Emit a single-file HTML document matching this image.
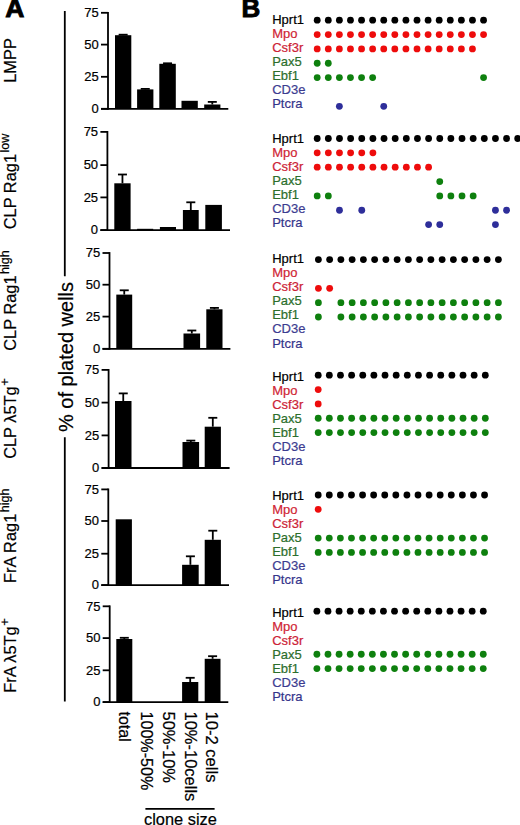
<!DOCTYPE html><html><head><meta charset="utf-8"><style>html,body{margin:0;padding:0;background:#fff;}svg{display:block;}text{font-family:"Liberation Sans", sans-serif;stroke:#000;stroke-width:0.2px;}</style></head><body>
<svg width="520" height="825" viewBox="0 0 520 825">
<rect width="520" height="825" fill="#fff"/>
<text x="5.30" y="17.0" font-size="26.5" font-weight="bold" style="stroke-width:0.9px">A</text>
<text x="241.60" y="17.4" font-size="26" font-weight="bold" style="stroke-width:0.9px">B</text>
<line x1="108.00" y1="11.90" x2="108.00" y2="109.70" stroke="#000" stroke-width="1.80"/>
<line x1="101.00" y1="108.80" x2="228.30" y2="108.80" stroke="#000" stroke-width="1.80"/>
<line x1="101.00" y1="12.80" x2="108.00" y2="12.80" stroke="#000" stroke-width="1.80"/>
<text x="98.70" y="17.00" font-size="13" text-anchor="end">75</text>
<line x1="101.00" y1="44.60" x2="108.00" y2="44.60" stroke="#000" stroke-width="1.80"/>
<text x="98.70" y="48.80" font-size="13" text-anchor="end">50</text>
<line x1="101.00" y1="76.80" x2="108.00" y2="76.80" stroke="#000" stroke-width="1.80"/>
<text x="98.70" y="81.00" font-size="13" text-anchor="end">25</text>
<line x1="101.00" y1="108.80" x2="108.00" y2="108.80" stroke="#000" stroke-width="1.80"/>
<text x="98.70" y="113.00" font-size="13" text-anchor="end">0</text>
<rect x="115.00" y="35.20" width="16.30" height="73.60" fill="#000"/>
<line x1="123.15" y1="35.20" x2="123.15" y2="34.70" stroke="#000" stroke-width="1.80"/>
<line x1="118.65" y1="34.70" x2="127.65" y2="34.70" stroke="#000" stroke-width="1.80"/>
<rect x="137.10" y="89.40" width="16.30" height="19.40" fill="#000"/>
<line x1="145.25" y1="89.40" x2="145.25" y2="88.90" stroke="#000" stroke-width="1.80"/>
<line x1="140.75" y1="88.90" x2="149.75" y2="88.90" stroke="#000" stroke-width="1.80"/>
<rect x="159.30" y="63.80" width="16.50" height="45.00" fill="#000"/>
<line x1="167.55" y1="63.80" x2="167.55" y2="63.30" stroke="#000" stroke-width="1.80"/>
<line x1="163.05" y1="63.30" x2="172.05" y2="63.30" stroke="#000" stroke-width="1.80"/>
<rect x="181.50" y="100.80" width="16.30" height="8.00" fill="#000"/>
<rect x="204.20" y="104.50" width="16.20" height="4.30" fill="#000"/>
<line x1="212.30" y1="104.50" x2="212.30" y2="101.90" stroke="#000" stroke-width="1.80"/>
<line x1="207.80" y1="101.90" x2="216.80" y2="101.90" stroke="#000" stroke-width="1.80"/>
<text x="15.70" y="60.50" font-size="16.4" text-anchor="middle" transform="rotate(-90 15.70 60.50)">LMPP</text>
<line x1="107.40" y1="131.00" x2="107.40" y2="231.00" stroke="#000" stroke-width="1.80"/>
<line x1="100.40" y1="230.10" x2="230.00" y2="230.10" stroke="#000" stroke-width="1.80"/>
<line x1="100.40" y1="131.90" x2="107.40" y2="131.90" stroke="#000" stroke-width="1.80"/>
<text x="98.10" y="136.10" font-size="13" text-anchor="end">75</text>
<line x1="100.40" y1="165.10" x2="107.40" y2="165.10" stroke="#000" stroke-width="1.80"/>
<text x="98.10" y="169.30" font-size="13" text-anchor="end">50</text>
<line x1="100.40" y1="197.40" x2="107.40" y2="197.40" stroke="#000" stroke-width="1.80"/>
<text x="98.10" y="201.60" font-size="13" text-anchor="end">25</text>
<line x1="100.40" y1="230.10" x2="107.40" y2="230.10" stroke="#000" stroke-width="1.80"/>
<text x="98.10" y="234.30" font-size="13" text-anchor="end">0</text>
<rect x="114.30" y="183.30" width="16.30" height="46.80" fill="#000"/>
<line x1="122.45" y1="183.30" x2="122.45" y2="174.50" stroke="#000" stroke-width="1.80"/>
<line x1="117.95" y1="174.50" x2="126.95" y2="174.50" stroke="#000" stroke-width="1.80"/>
<rect x="137.10" y="228.80" width="16.10" height="1.30" fill="#000"/>
<rect x="159.90" y="227.00" width="16.10" height="3.10" fill="#000"/>
<rect x="182.90" y="210.00" width="15.80" height="20.10" fill="#000"/>
<line x1="190.80" y1="210.00" x2="190.80" y2="202.30" stroke="#000" stroke-width="1.80"/>
<line x1="186.30" y1="202.30" x2="195.30" y2="202.30" stroke="#000" stroke-width="1.80"/>
<rect x="205.30" y="204.90" width="16.60" height="25.20" fill="#000"/>
<text x="15.70" y="181.50" font-size="16.4" text-anchor="middle" transform="rotate(-90 15.70 181.50)">CLP Rag1<tspan font-size="12.5" dx="1.5" dy="-7">low</tspan></text>
<line x1="109.50" y1="252.10" x2="109.50" y2="349.70" stroke="#000" stroke-width="1.80"/>
<line x1="102.50" y1="348.80" x2="230.40" y2="348.80" stroke="#000" stroke-width="1.80"/>
<line x1="102.50" y1="253.00" x2="109.50" y2="253.00" stroke="#000" stroke-width="1.80"/>
<text x="100.20" y="257.20" font-size="13" text-anchor="end">75</text>
<line x1="102.50" y1="284.70" x2="109.50" y2="284.70" stroke="#000" stroke-width="1.80"/>
<text x="100.20" y="288.90" font-size="13" text-anchor="end">50</text>
<line x1="102.50" y1="316.60" x2="109.50" y2="316.60" stroke="#000" stroke-width="1.80"/>
<text x="100.20" y="320.80" font-size="13" text-anchor="end">25</text>
<line x1="102.50" y1="348.80" x2="109.50" y2="348.80" stroke="#000" stroke-width="1.80"/>
<text x="100.20" y="353.00" font-size="13" text-anchor="end">0</text>
<rect x="116.30" y="294.60" width="15.90" height="54.20" fill="#000"/>
<line x1="124.25" y1="294.60" x2="124.25" y2="290.30" stroke="#000" stroke-width="1.80"/>
<line x1="119.75" y1="290.30" x2="128.75" y2="290.30" stroke="#000" stroke-width="1.80"/>
<rect x="183.50" y="333.50" width="16.60" height="15.30" fill="#000"/>
<line x1="191.80" y1="333.50" x2="191.80" y2="330.50" stroke="#000" stroke-width="1.80"/>
<line x1="187.30" y1="330.50" x2="196.30" y2="330.50" stroke="#000" stroke-width="1.80"/>
<rect x="206.30" y="309.30" width="16.20" height="39.50" fill="#000"/>
<line x1="214.40" y1="309.30" x2="214.40" y2="307.90" stroke="#000" stroke-width="1.80"/>
<line x1="209.90" y1="307.90" x2="218.90" y2="307.90" stroke="#000" stroke-width="1.80"/>
<text x="15.70" y="300.50" font-size="16.4" text-anchor="middle" transform="rotate(-90 15.70 300.50)">CLP Rag1<tspan font-size="12.5" dx="1.5" dy="-7">high</tspan></text>
<line x1="108.60" y1="369.00" x2="108.60" y2="468.90" stroke="#000" stroke-width="1.80"/>
<line x1="101.60" y1="468.00" x2="229.60" y2="468.00" stroke="#000" stroke-width="1.80"/>
<line x1="101.60" y1="369.90" x2="108.60" y2="369.90" stroke="#000" stroke-width="1.80"/>
<text x="99.30" y="374.10" font-size="13" text-anchor="end">75</text>
<line x1="101.60" y1="402.60" x2="108.60" y2="402.60" stroke="#000" stroke-width="1.80"/>
<text x="99.30" y="406.80" font-size="13" text-anchor="end">50</text>
<line x1="101.60" y1="435.40" x2="108.60" y2="435.40" stroke="#000" stroke-width="1.80"/>
<text x="99.30" y="439.60" font-size="13" text-anchor="end">25</text>
<line x1="101.60" y1="468.00" x2="108.60" y2="468.00" stroke="#000" stroke-width="1.80"/>
<text x="99.30" y="472.20" font-size="13" text-anchor="end">0</text>
<rect x="115.00" y="401.00" width="16.50" height="67.00" fill="#000"/>
<line x1="123.25" y1="401.00" x2="123.25" y2="393.40" stroke="#000" stroke-width="1.80"/>
<line x1="118.75" y1="393.40" x2="127.75" y2="393.40" stroke="#000" stroke-width="1.80"/>
<rect x="182.50" y="442.00" width="16.60" height="26.00" fill="#000"/>
<line x1="190.80" y1="442.00" x2="190.80" y2="440.60" stroke="#000" stroke-width="1.80"/>
<line x1="186.30" y1="440.60" x2="195.30" y2="440.60" stroke="#000" stroke-width="1.80"/>
<rect x="204.70" y="426.70" width="16.20" height="41.30" fill="#000"/>
<line x1="212.80" y1="426.70" x2="212.80" y2="417.80" stroke="#000" stroke-width="1.80"/>
<line x1="208.30" y1="417.80" x2="217.30" y2="417.80" stroke="#000" stroke-width="1.80"/>
<text x="15.70" y="418.50" font-size="16.4" text-anchor="middle" transform="rotate(-90 15.70 418.50)">CLP λ5Tg<tspan font-size="13.0" dx="0.5" dy="-7">+</tspan></text>
<line x1="108.30" y1="488.50" x2="108.30" y2="586.00" stroke="#000" stroke-width="1.80"/>
<line x1="101.30" y1="585.10" x2="229.00" y2="585.10" stroke="#000" stroke-width="1.80"/>
<line x1="101.30" y1="489.40" x2="108.30" y2="489.40" stroke="#000" stroke-width="1.80"/>
<text x="99.00" y="493.60" font-size="13" text-anchor="end">75</text>
<line x1="101.30" y1="521.00" x2="108.30" y2="521.00" stroke="#000" stroke-width="1.80"/>
<text x="99.00" y="525.20" font-size="13" text-anchor="end">50</text>
<line x1="101.30" y1="553.70" x2="108.30" y2="553.70" stroke="#000" stroke-width="1.80"/>
<text x="99.00" y="557.90" font-size="13" text-anchor="end">25</text>
<line x1="101.30" y1="585.10" x2="108.30" y2="585.10" stroke="#000" stroke-width="1.80"/>
<text x="99.00" y="589.30" font-size="13" text-anchor="end">0</text>
<rect x="115.70" y="519.30" width="16.20" height="65.80" fill="#000"/>
<rect x="182.10" y="564.80" width="16.60" height="20.30" fill="#000"/>
<line x1="190.40" y1="564.80" x2="190.40" y2="556.30" stroke="#000" stroke-width="1.80"/>
<line x1="185.90" y1="556.30" x2="194.90" y2="556.30" stroke="#000" stroke-width="1.80"/>
<rect x="204.70" y="539.80" width="16.20" height="45.30" fill="#000"/>
<line x1="212.80" y1="539.80" x2="212.80" y2="530.70" stroke="#000" stroke-width="1.80"/>
<line x1="208.30" y1="530.70" x2="217.30" y2="530.70" stroke="#000" stroke-width="1.80"/>
<text x="15.70" y="535.80" font-size="16.4" text-anchor="middle" transform="rotate(-90 15.70 535.80)">FrA Rag1<tspan font-size="12.5" dx="1.5" dy="-7">high</tspan></text>
<line x1="109.70" y1="605.40" x2="109.70" y2="703.00" stroke="#000" stroke-width="1.80"/>
<line x1="102.70" y1="702.10" x2="228.30" y2="702.10" stroke="#000" stroke-width="1.80"/>
<line x1="102.70" y1="606.30" x2="109.70" y2="606.30" stroke="#000" stroke-width="1.80"/>
<text x="100.40" y="610.50" font-size="13" text-anchor="end">75</text>
<line x1="102.70" y1="638.10" x2="109.70" y2="638.10" stroke="#000" stroke-width="1.80"/>
<text x="100.40" y="642.30" font-size="13" text-anchor="end">50</text>
<line x1="102.70" y1="670.30" x2="109.70" y2="670.30" stroke="#000" stroke-width="1.80"/>
<text x="100.40" y="674.50" font-size="13" text-anchor="end">25</text>
<line x1="102.70" y1="702.10" x2="109.70" y2="702.10" stroke="#000" stroke-width="1.80"/>
<text x="100.40" y="706.30" font-size="13" text-anchor="end">0</text>
<rect x="116.30" y="639.00" width="16.00" height="63.10" fill="#000"/>
<line x1="124.30" y1="639.00" x2="124.30" y2="637.80" stroke="#000" stroke-width="1.80"/>
<line x1="119.80" y1="637.80" x2="128.80" y2="637.80" stroke="#000" stroke-width="1.80"/>
<rect x="182.10" y="682.00" width="16.20" height="20.10" fill="#000"/>
<line x1="190.20" y1="682.00" x2="190.20" y2="677.80" stroke="#000" stroke-width="1.80"/>
<line x1="185.70" y1="677.80" x2="194.70" y2="677.80" stroke="#000" stroke-width="1.80"/>
<rect x="204.70" y="658.80" width="15.80" height="43.30" fill="#000"/>
<line x1="212.60" y1="658.80" x2="212.60" y2="656.20" stroke="#000" stroke-width="1.80"/>
<line x1="208.10" y1="656.20" x2="217.10" y2="656.20" stroke="#000" stroke-width="1.80"/>
<text x="15.70" y="655.50" font-size="16.4" text-anchor="middle" transform="rotate(-90 15.70 655.50)">FrA λ5Tg<tspan font-size="13.0" dx="0.5" dy="-7">+</tspan></text>
<line x1="64.8" y1="11" x2="64.8" y2="276.2" stroke="#000" stroke-width="1.8"/>
<line x1="64.8" y1="437.3" x2="64.8" y2="701.5" stroke="#000" stroke-width="1.8"/>
<text x="73.3" y="357" font-size="20" text-anchor="middle" transform="rotate(-90 73.3 357)">% of plated wells</text>
<text x="119.00" y="711.50" font-size="16.0" transform="rotate(90 119.00 711.50)">total</text>
<text x="140.80" y="711.50" font-size="16.1" transform="rotate(90 140.80 711.50)">100%-50%</text>
<text x="162.60" y="711.50" font-size="16.5" transform="rotate(90 162.60 711.50)">50%-10%</text>
<text x="184.60" y="711.50" font-size="16.5" transform="rotate(90 184.60 711.50)">10%-10cells</text>
<text x="206.20" y="711.50" font-size="16.6" transform="rotate(90 206.20 711.50)">10-2 cells</text>
<line x1="145.4" y1="808.8" x2="214.6" y2="808.8" stroke="#000" stroke-width="1.8"/>
<text x="144" y="824.6" font-size="16.4">clone size</text>
<text x="272.2" y="23.70" font-size="13" style="fill:#000;stroke:#000">Hprt1</text>
<circle cx="317.20" cy="20.20" r="3.40" fill="#000"/>
<circle cx="328.29" cy="20.20" r="3.40" fill="#000"/>
<circle cx="339.38" cy="20.20" r="3.40" fill="#000"/>
<circle cx="350.47" cy="20.20" r="3.40" fill="#000"/>
<circle cx="361.56" cy="20.20" r="3.40" fill="#000"/>
<circle cx="372.65" cy="20.20" r="3.40" fill="#000"/>
<circle cx="383.74" cy="20.20" r="3.40" fill="#000"/>
<circle cx="394.83" cy="20.20" r="3.40" fill="#000"/>
<circle cx="405.92" cy="20.20" r="3.40" fill="#000"/>
<circle cx="417.01" cy="20.20" r="3.40" fill="#000"/>
<circle cx="428.10" cy="20.20" r="3.40" fill="#000"/>
<circle cx="439.19" cy="20.20" r="3.40" fill="#000"/>
<circle cx="450.28" cy="20.20" r="3.40" fill="#000"/>
<circle cx="461.37" cy="20.20" r="3.40" fill="#000"/>
<circle cx="472.46" cy="20.20" r="3.40" fill="#000"/>
<circle cx="483.55" cy="20.20" r="3.40" fill="#000"/>
<text x="272.2" y="37.75" font-size="13" style="fill:#d02434;stroke:#d02434">Mpo</text>
<circle cx="317.20" cy="34.55" r="3.40" fill="#ee0c0c"/>
<circle cx="328.29" cy="34.55" r="3.40" fill="#ee0c0c"/>
<circle cx="339.38" cy="34.55" r="3.40" fill="#ee0c0c"/>
<circle cx="350.47" cy="34.55" r="3.40" fill="#ee0c0c"/>
<circle cx="361.56" cy="34.55" r="3.40" fill="#ee0c0c"/>
<circle cx="372.65" cy="34.55" r="3.40" fill="#ee0c0c"/>
<circle cx="383.74" cy="34.55" r="3.40" fill="#ee0c0c"/>
<circle cx="394.83" cy="34.55" r="3.40" fill="#ee0c0c"/>
<circle cx="405.92" cy="34.55" r="3.40" fill="#ee0c0c"/>
<circle cx="417.01" cy="34.55" r="3.40" fill="#ee0c0c"/>
<circle cx="428.10" cy="34.55" r="3.40" fill="#ee0c0c"/>
<circle cx="439.19" cy="34.55" r="3.40" fill="#ee0c0c"/>
<circle cx="450.28" cy="34.55" r="3.40" fill="#ee0c0c"/>
<circle cx="461.37" cy="34.55" r="3.40" fill="#ee0c0c"/>
<circle cx="472.46" cy="34.55" r="3.40" fill="#ee0c0c"/>
<circle cx="483.55" cy="34.55" r="3.40" fill="#ee0c0c"/>
<text x="272.2" y="51.80" font-size="13" style="fill:#cc2236;stroke:#cc2236">Csf3r</text>
<circle cx="317.20" cy="48.90" r="3.40" fill="#ee0c0c"/>
<circle cx="328.29" cy="48.90" r="3.40" fill="#ee0c0c"/>
<circle cx="339.38" cy="48.90" r="3.40" fill="#ee0c0c"/>
<circle cx="350.47" cy="48.90" r="3.40" fill="#ee0c0c"/>
<circle cx="361.56" cy="48.90" r="3.40" fill="#ee0c0c"/>
<circle cx="372.65" cy="48.90" r="3.40" fill="#ee0c0c"/>
<circle cx="383.74" cy="48.90" r="3.40" fill="#ee0c0c"/>
<circle cx="394.83" cy="48.90" r="3.40" fill="#ee0c0c"/>
<circle cx="405.92" cy="48.90" r="3.40" fill="#ee0c0c"/>
<circle cx="417.01" cy="48.90" r="3.40" fill="#ee0c0c"/>
<circle cx="428.10" cy="48.90" r="3.40" fill="#ee0c0c"/>
<circle cx="439.19" cy="48.90" r="3.40" fill="#ee0c0c"/>
<circle cx="450.28" cy="48.90" r="3.40" fill="#ee0c0c"/>
<circle cx="461.37" cy="48.90" r="3.40" fill="#ee0c0c"/>
<circle cx="472.46" cy="48.90" r="3.40" fill="#ee0c0c"/>
<text x="272.2" y="65.85" font-size="13" style="fill:#2c6e2c;stroke:#2c6e2c">Pax5</text>
<circle cx="317.20" cy="63.25" r="3.40" fill="#0e800e"/>
<circle cx="328.29" cy="63.25" r="3.40" fill="#0e800e"/>
<text x="272.2" y="79.90" font-size="13" style="fill:#2c6e2c;stroke:#2c6e2c">Ebf1</text>
<circle cx="317.20" cy="77.60" r="3.40" fill="#0e800e"/>
<circle cx="328.29" cy="77.60" r="3.40" fill="#0e800e"/>
<circle cx="339.38" cy="77.60" r="3.40" fill="#0e800e"/>
<circle cx="350.47" cy="77.60" r="3.40" fill="#0e800e"/>
<circle cx="361.56" cy="77.60" r="3.40" fill="#0e800e"/>
<circle cx="372.65" cy="77.60" r="3.40" fill="#0e800e"/>
<circle cx="483.55" cy="77.60" r="3.40" fill="#0e800e"/>
<text x="272.2" y="93.95" font-size="13" style="fill:#3c3c90;stroke:#3c3c90">CD3e</text>
<text x="272.2" y="108.00" font-size="13" style="fill:#34348a;stroke:#34348a">Ptcra</text>
<circle cx="339.38" cy="106.30" r="3.40" fill="#2e2e9a"/>
<circle cx="383.74" cy="106.30" r="3.40" fill="#2e2e9a"/>
<text x="272.2" y="142.60" font-size="13" style="fill:#000;stroke:#000">Hprt1</text>
<circle cx="317.20" cy="138.50" r="3.40" fill="#000"/>
<circle cx="328.34" cy="138.50" r="3.40" fill="#000"/>
<circle cx="339.48" cy="138.50" r="3.40" fill="#000"/>
<circle cx="350.62" cy="138.50" r="3.40" fill="#000"/>
<circle cx="361.76" cy="138.50" r="3.40" fill="#000"/>
<circle cx="372.90" cy="138.50" r="3.40" fill="#000"/>
<circle cx="384.04" cy="138.50" r="3.40" fill="#000"/>
<circle cx="395.18" cy="138.50" r="3.40" fill="#000"/>
<circle cx="406.32" cy="138.50" r="3.40" fill="#000"/>
<circle cx="417.46" cy="138.50" r="3.40" fill="#000"/>
<circle cx="428.60" cy="138.50" r="3.40" fill="#000"/>
<circle cx="439.74" cy="138.50" r="3.40" fill="#000"/>
<circle cx="450.88" cy="138.50" r="3.40" fill="#000"/>
<circle cx="462.02" cy="138.50" r="3.40" fill="#000"/>
<circle cx="473.16" cy="138.50" r="3.40" fill="#000"/>
<circle cx="484.30" cy="138.50" r="3.40" fill="#000"/>
<circle cx="495.44" cy="138.50" r="3.40" fill="#000"/>
<circle cx="506.58" cy="138.50" r="3.40" fill="#000"/>
<circle cx="517.72" cy="138.50" r="3.40" fill="#000"/>
<text x="272.2" y="156.65" font-size="13" style="fill:#d02434;stroke:#d02434">Mpo</text>
<circle cx="317.20" cy="152.85" r="3.40" fill="#ee0c0c"/>
<circle cx="328.34" cy="152.85" r="3.40" fill="#ee0c0c"/>
<circle cx="339.48" cy="152.85" r="3.40" fill="#ee0c0c"/>
<circle cx="350.62" cy="152.85" r="3.40" fill="#ee0c0c"/>
<circle cx="361.76" cy="152.85" r="3.40" fill="#ee0c0c"/>
<circle cx="372.90" cy="152.85" r="3.40" fill="#ee0c0c"/>
<text x="272.2" y="170.70" font-size="13" style="fill:#cc2236;stroke:#cc2236">Csf3r</text>
<circle cx="317.20" cy="167.20" r="3.40" fill="#ee0c0c"/>
<circle cx="328.34" cy="167.20" r="3.40" fill="#ee0c0c"/>
<circle cx="339.48" cy="167.20" r="3.40" fill="#ee0c0c"/>
<circle cx="350.62" cy="167.20" r="3.40" fill="#ee0c0c"/>
<circle cx="361.76" cy="167.20" r="3.40" fill="#ee0c0c"/>
<circle cx="372.90" cy="167.20" r="3.40" fill="#ee0c0c"/>
<circle cx="384.04" cy="167.20" r="3.40" fill="#ee0c0c"/>
<circle cx="395.18" cy="167.20" r="3.40" fill="#ee0c0c"/>
<circle cx="406.32" cy="167.20" r="3.40" fill="#ee0c0c"/>
<circle cx="417.46" cy="167.20" r="3.40" fill="#ee0c0c"/>
<circle cx="428.60" cy="167.20" r="3.40" fill="#ee0c0c"/>
<text x="272.2" y="184.75" font-size="13" style="fill:#2c6e2c;stroke:#2c6e2c">Pax5</text>
<circle cx="439.74" cy="181.55" r="3.40" fill="#0e800e"/>
<text x="272.2" y="198.80" font-size="13" style="fill:#2c6e2c;stroke:#2c6e2c">Ebf1</text>
<circle cx="317.20" cy="195.90" r="3.40" fill="#0e800e"/>
<circle cx="328.34" cy="195.90" r="3.40" fill="#0e800e"/>
<circle cx="439.74" cy="195.90" r="3.40" fill="#0e800e"/>
<circle cx="450.88" cy="195.90" r="3.40" fill="#0e800e"/>
<circle cx="462.02" cy="195.90" r="3.40" fill="#0e800e"/>
<circle cx="473.16" cy="195.90" r="3.40" fill="#0e800e"/>
<text x="272.2" y="212.85" font-size="13" style="fill:#3c3c90;stroke:#3c3c90">CD3e</text>
<circle cx="339.48" cy="210.25" r="3.40" fill="#2e2e9a"/>
<circle cx="361.76" cy="210.25" r="3.40" fill="#2e2e9a"/>
<circle cx="495.44" cy="210.25" r="3.40" fill="#2e2e9a"/>
<circle cx="506.58" cy="210.25" r="3.40" fill="#2e2e9a"/>
<text x="272.2" y="226.90" font-size="13" style="fill:#34348a;stroke:#34348a">Ptcra</text>
<circle cx="428.60" cy="224.60" r="3.40" fill="#2e2e9a"/>
<circle cx="439.74" cy="224.60" r="3.40" fill="#2e2e9a"/>
<circle cx="495.44" cy="224.60" r="3.40" fill="#2e2e9a"/>
<text x="272.2" y="263.20" font-size="13" style="fill:#000;stroke:#000">Hprt1</text>
<circle cx="318.40" cy="259.60" r="3.40" fill="#000"/>
<circle cx="329.65" cy="259.60" r="3.40" fill="#000"/>
<circle cx="340.90" cy="259.60" r="3.40" fill="#000"/>
<circle cx="352.15" cy="259.60" r="3.40" fill="#000"/>
<circle cx="363.40" cy="259.60" r="3.40" fill="#000"/>
<circle cx="374.65" cy="259.60" r="3.40" fill="#000"/>
<circle cx="385.90" cy="259.60" r="3.40" fill="#000"/>
<circle cx="397.15" cy="259.60" r="3.40" fill="#000"/>
<circle cx="408.40" cy="259.60" r="3.40" fill="#000"/>
<circle cx="419.65" cy="259.60" r="3.40" fill="#000"/>
<circle cx="430.90" cy="259.60" r="3.40" fill="#000"/>
<circle cx="442.15" cy="259.60" r="3.40" fill="#000"/>
<circle cx="453.40" cy="259.60" r="3.40" fill="#000"/>
<circle cx="464.65" cy="259.60" r="3.40" fill="#000"/>
<circle cx="475.90" cy="259.60" r="3.40" fill="#000"/>
<circle cx="487.15" cy="259.60" r="3.40" fill="#000"/>
<circle cx="498.40" cy="259.60" r="3.40" fill="#000"/>
<text x="272.2" y="277.25" font-size="13" style="fill:#d02434;stroke:#d02434">Mpo</text>
<text x="272.2" y="291.30" font-size="13" style="fill:#cc2236;stroke:#cc2236">Csf3r</text>
<circle cx="318.40" cy="288.30" r="3.40" fill="#ee0c0c"/>
<circle cx="329.65" cy="288.30" r="3.40" fill="#ee0c0c"/>
<text x="272.2" y="305.35" font-size="13" style="fill:#2c6e2c;stroke:#2c6e2c">Pax5</text>
<circle cx="318.40" cy="302.65" r="3.40" fill="#0e800e"/>
<circle cx="340.90" cy="302.65" r="3.40" fill="#0e800e"/>
<circle cx="352.15" cy="302.65" r="3.40" fill="#0e800e"/>
<circle cx="363.40" cy="302.65" r="3.40" fill="#0e800e"/>
<circle cx="374.65" cy="302.65" r="3.40" fill="#0e800e"/>
<circle cx="385.90" cy="302.65" r="3.40" fill="#0e800e"/>
<circle cx="397.15" cy="302.65" r="3.40" fill="#0e800e"/>
<circle cx="408.40" cy="302.65" r="3.40" fill="#0e800e"/>
<circle cx="419.65" cy="302.65" r="3.40" fill="#0e800e"/>
<circle cx="430.90" cy="302.65" r="3.40" fill="#0e800e"/>
<circle cx="442.15" cy="302.65" r="3.40" fill="#0e800e"/>
<circle cx="453.40" cy="302.65" r="3.40" fill="#0e800e"/>
<circle cx="464.65" cy="302.65" r="3.40" fill="#0e800e"/>
<circle cx="475.90" cy="302.65" r="3.40" fill="#0e800e"/>
<circle cx="487.15" cy="302.65" r="3.40" fill="#0e800e"/>
<circle cx="498.40" cy="302.65" r="3.40" fill="#0e800e"/>
<text x="272.2" y="319.40" font-size="13" style="fill:#2c6e2c;stroke:#2c6e2c">Ebf1</text>
<circle cx="318.40" cy="317.00" r="3.40" fill="#0e800e"/>
<circle cx="340.90" cy="317.00" r="3.40" fill="#0e800e"/>
<circle cx="352.15" cy="317.00" r="3.40" fill="#0e800e"/>
<circle cx="363.40" cy="317.00" r="3.40" fill="#0e800e"/>
<circle cx="374.65" cy="317.00" r="3.40" fill="#0e800e"/>
<circle cx="385.90" cy="317.00" r="3.40" fill="#0e800e"/>
<circle cx="397.15" cy="317.00" r="3.40" fill="#0e800e"/>
<circle cx="408.40" cy="317.00" r="3.40" fill="#0e800e"/>
<circle cx="419.65" cy="317.00" r="3.40" fill="#0e800e"/>
<circle cx="430.90" cy="317.00" r="3.40" fill="#0e800e"/>
<circle cx="442.15" cy="317.00" r="3.40" fill="#0e800e"/>
<circle cx="453.40" cy="317.00" r="3.40" fill="#0e800e"/>
<circle cx="464.65" cy="317.00" r="3.40" fill="#0e800e"/>
<circle cx="475.90" cy="317.00" r="3.40" fill="#0e800e"/>
<circle cx="487.15" cy="317.00" r="3.40" fill="#0e800e"/>
<circle cx="498.40" cy="317.00" r="3.40" fill="#0e800e"/>
<text x="272.2" y="333.45" font-size="13" style="fill:#3c3c90;stroke:#3c3c90">CD3e</text>
<text x="272.2" y="347.50" font-size="13" style="fill:#34348a;stroke:#34348a">Ptcra</text>
<text x="272.2" y="380.50" font-size="13" style="fill:#000;stroke:#000">Hprt1</text>
<circle cx="318.20" cy="375.20" r="3.40" fill="#000"/>
<circle cx="329.34" cy="375.20" r="3.40" fill="#000"/>
<circle cx="340.48" cy="375.20" r="3.40" fill="#000"/>
<circle cx="351.62" cy="375.20" r="3.40" fill="#000"/>
<circle cx="362.76" cy="375.20" r="3.40" fill="#000"/>
<circle cx="373.90" cy="375.20" r="3.40" fill="#000"/>
<circle cx="385.04" cy="375.20" r="3.40" fill="#000"/>
<circle cx="396.18" cy="375.20" r="3.40" fill="#000"/>
<circle cx="407.32" cy="375.20" r="3.40" fill="#000"/>
<circle cx="418.46" cy="375.20" r="3.40" fill="#000"/>
<circle cx="429.60" cy="375.20" r="3.40" fill="#000"/>
<circle cx="440.74" cy="375.20" r="3.40" fill="#000"/>
<circle cx="451.88" cy="375.20" r="3.40" fill="#000"/>
<circle cx="463.02" cy="375.20" r="3.40" fill="#000"/>
<circle cx="474.16" cy="375.20" r="3.40" fill="#000"/>
<circle cx="485.30" cy="375.20" r="3.40" fill="#000"/>
<text x="272.2" y="394.55" font-size="13" style="fill:#d02434;stroke:#d02434">Mpo</text>
<circle cx="318.20" cy="389.55" r="3.40" fill="#ee0c0c"/>
<text x="272.2" y="408.60" font-size="13" style="fill:#cc2236;stroke:#cc2236">Csf3r</text>
<circle cx="318.20" cy="403.90" r="3.40" fill="#ee0c0c"/>
<text x="272.2" y="422.65" font-size="13" style="fill:#2c6e2c;stroke:#2c6e2c">Pax5</text>
<circle cx="318.20" cy="418.25" r="3.40" fill="#0e800e"/>
<circle cx="329.34" cy="418.25" r="3.40" fill="#0e800e"/>
<circle cx="340.48" cy="418.25" r="3.40" fill="#0e800e"/>
<circle cx="351.62" cy="418.25" r="3.40" fill="#0e800e"/>
<circle cx="362.76" cy="418.25" r="3.40" fill="#0e800e"/>
<circle cx="373.90" cy="418.25" r="3.40" fill="#0e800e"/>
<circle cx="385.04" cy="418.25" r="3.40" fill="#0e800e"/>
<circle cx="396.18" cy="418.25" r="3.40" fill="#0e800e"/>
<circle cx="407.32" cy="418.25" r="3.40" fill="#0e800e"/>
<circle cx="418.46" cy="418.25" r="3.40" fill="#0e800e"/>
<circle cx="429.60" cy="418.25" r="3.40" fill="#0e800e"/>
<circle cx="440.74" cy="418.25" r="3.40" fill="#0e800e"/>
<circle cx="451.88" cy="418.25" r="3.40" fill="#0e800e"/>
<circle cx="463.02" cy="418.25" r="3.40" fill="#0e800e"/>
<circle cx="474.16" cy="418.25" r="3.40" fill="#0e800e"/>
<circle cx="485.30" cy="418.25" r="3.40" fill="#0e800e"/>
<text x="272.2" y="436.70" font-size="13" style="fill:#2c6e2c;stroke:#2c6e2c">Ebf1</text>
<circle cx="318.20" cy="432.60" r="3.40" fill="#0e800e"/>
<circle cx="329.34" cy="432.60" r="3.40" fill="#0e800e"/>
<circle cx="340.48" cy="432.60" r="3.40" fill="#0e800e"/>
<circle cx="351.62" cy="432.60" r="3.40" fill="#0e800e"/>
<circle cx="362.76" cy="432.60" r="3.40" fill="#0e800e"/>
<circle cx="373.90" cy="432.60" r="3.40" fill="#0e800e"/>
<circle cx="385.04" cy="432.60" r="3.40" fill="#0e800e"/>
<circle cx="396.18" cy="432.60" r="3.40" fill="#0e800e"/>
<circle cx="407.32" cy="432.60" r="3.40" fill="#0e800e"/>
<circle cx="418.46" cy="432.60" r="3.40" fill="#0e800e"/>
<circle cx="429.60" cy="432.60" r="3.40" fill="#0e800e"/>
<circle cx="440.74" cy="432.60" r="3.40" fill="#0e800e"/>
<circle cx="451.88" cy="432.60" r="3.40" fill="#0e800e"/>
<circle cx="463.02" cy="432.60" r="3.40" fill="#0e800e"/>
<circle cx="474.16" cy="432.60" r="3.40" fill="#0e800e"/>
<circle cx="485.30" cy="432.60" r="3.40" fill="#0e800e"/>
<text x="272.2" y="450.75" font-size="13" style="fill:#3c3c90;stroke:#3c3c90">CD3e</text>
<text x="272.2" y="464.80" font-size="13" style="fill:#34348a;stroke:#34348a">Ptcra</text>
<text x="272.2" y="499.50" font-size="13" style="fill:#000;stroke:#000">Hprt1</text>
<circle cx="318.20" cy="495.00" r="3.40" fill="#000"/>
<circle cx="329.29" cy="495.00" r="3.40" fill="#000"/>
<circle cx="340.38" cy="495.00" r="3.40" fill="#000"/>
<circle cx="351.47" cy="495.00" r="3.40" fill="#000"/>
<circle cx="362.56" cy="495.00" r="3.40" fill="#000"/>
<circle cx="373.65" cy="495.00" r="3.40" fill="#000"/>
<circle cx="384.74" cy="495.00" r="3.40" fill="#000"/>
<circle cx="395.83" cy="495.00" r="3.40" fill="#000"/>
<circle cx="406.92" cy="495.00" r="3.40" fill="#000"/>
<circle cx="418.01" cy="495.00" r="3.40" fill="#000"/>
<circle cx="429.10" cy="495.00" r="3.40" fill="#000"/>
<circle cx="440.19" cy="495.00" r="3.40" fill="#000"/>
<circle cx="451.28" cy="495.00" r="3.40" fill="#000"/>
<circle cx="462.37" cy="495.00" r="3.40" fill="#000"/>
<circle cx="473.46" cy="495.00" r="3.40" fill="#000"/>
<circle cx="484.55" cy="495.00" r="3.40" fill="#000"/>
<text x="272.2" y="513.55" font-size="13" style="fill:#d02434;stroke:#d02434">Mpo</text>
<circle cx="318.20" cy="509.35" r="3.40" fill="#ee0c0c"/>
<text x="272.2" y="527.60" font-size="13" style="fill:#cc2236;stroke:#cc2236">Csf3r</text>
<text x="272.2" y="541.65" font-size="13" style="fill:#2c6e2c;stroke:#2c6e2c">Pax5</text>
<circle cx="318.20" cy="538.05" r="3.40" fill="#0e800e"/>
<circle cx="329.29" cy="538.05" r="3.40" fill="#0e800e"/>
<circle cx="340.38" cy="538.05" r="3.40" fill="#0e800e"/>
<circle cx="351.47" cy="538.05" r="3.40" fill="#0e800e"/>
<circle cx="362.56" cy="538.05" r="3.40" fill="#0e800e"/>
<circle cx="373.65" cy="538.05" r="3.40" fill="#0e800e"/>
<circle cx="384.74" cy="538.05" r="3.40" fill="#0e800e"/>
<circle cx="395.83" cy="538.05" r="3.40" fill="#0e800e"/>
<circle cx="406.92" cy="538.05" r="3.40" fill="#0e800e"/>
<circle cx="418.01" cy="538.05" r="3.40" fill="#0e800e"/>
<circle cx="429.10" cy="538.05" r="3.40" fill="#0e800e"/>
<circle cx="440.19" cy="538.05" r="3.40" fill="#0e800e"/>
<circle cx="451.28" cy="538.05" r="3.40" fill="#0e800e"/>
<circle cx="462.37" cy="538.05" r="3.40" fill="#0e800e"/>
<circle cx="473.46" cy="538.05" r="3.40" fill="#0e800e"/>
<circle cx="484.55" cy="538.05" r="3.40" fill="#0e800e"/>
<text x="272.2" y="555.70" font-size="13" style="fill:#2c6e2c;stroke:#2c6e2c">Ebf1</text>
<circle cx="318.20" cy="552.40" r="3.40" fill="#0e800e"/>
<circle cx="329.29" cy="552.40" r="3.40" fill="#0e800e"/>
<circle cx="340.38" cy="552.40" r="3.40" fill="#0e800e"/>
<circle cx="351.47" cy="552.40" r="3.40" fill="#0e800e"/>
<circle cx="362.56" cy="552.40" r="3.40" fill="#0e800e"/>
<circle cx="373.65" cy="552.40" r="3.40" fill="#0e800e"/>
<circle cx="384.74" cy="552.40" r="3.40" fill="#0e800e"/>
<circle cx="395.83" cy="552.40" r="3.40" fill="#0e800e"/>
<circle cx="406.92" cy="552.40" r="3.40" fill="#0e800e"/>
<circle cx="418.01" cy="552.40" r="3.40" fill="#0e800e"/>
<circle cx="429.10" cy="552.40" r="3.40" fill="#0e800e"/>
<circle cx="440.19" cy="552.40" r="3.40" fill="#0e800e"/>
<circle cx="451.28" cy="552.40" r="3.40" fill="#0e800e"/>
<circle cx="462.37" cy="552.40" r="3.40" fill="#0e800e"/>
<circle cx="473.46" cy="552.40" r="3.40" fill="#0e800e"/>
<circle cx="484.55" cy="552.40" r="3.40" fill="#0e800e"/>
<text x="272.2" y="569.75" font-size="13" style="fill:#3c3c90;stroke:#3c3c90">CD3e</text>
<text x="272.2" y="583.80" font-size="13" style="fill:#34348a;stroke:#34348a">Ptcra</text>
<text x="272.2" y="616.80" font-size="13" style="fill:#000;stroke:#000">Hprt1</text>
<circle cx="316.90" cy="611.20" r="3.40" fill="#000"/>
<circle cx="327.99" cy="611.20" r="3.40" fill="#000"/>
<circle cx="339.08" cy="611.20" r="3.40" fill="#000"/>
<circle cx="350.17" cy="611.20" r="3.40" fill="#000"/>
<circle cx="361.26" cy="611.20" r="3.40" fill="#000"/>
<circle cx="372.35" cy="611.20" r="3.40" fill="#000"/>
<circle cx="383.44" cy="611.20" r="3.40" fill="#000"/>
<circle cx="394.53" cy="611.20" r="3.40" fill="#000"/>
<circle cx="405.62" cy="611.20" r="3.40" fill="#000"/>
<circle cx="416.71" cy="611.20" r="3.40" fill="#000"/>
<circle cx="427.80" cy="611.20" r="3.40" fill="#000"/>
<circle cx="438.89" cy="611.20" r="3.40" fill="#000"/>
<circle cx="449.98" cy="611.20" r="3.40" fill="#000"/>
<circle cx="461.07" cy="611.20" r="3.40" fill="#000"/>
<circle cx="472.16" cy="611.20" r="3.40" fill="#000"/>
<circle cx="483.25" cy="611.20" r="3.40" fill="#000"/>
<text x="272.2" y="630.85" font-size="13" style="fill:#d02434;stroke:#d02434">Mpo</text>
<text x="272.2" y="644.90" font-size="13" style="fill:#cc2236;stroke:#cc2236">Csf3r</text>
<text x="272.2" y="658.95" font-size="13" style="fill:#2c6e2c;stroke:#2c6e2c">Pax5</text>
<circle cx="316.90" cy="654.25" r="3.40" fill="#0e800e"/>
<circle cx="327.99" cy="654.25" r="3.40" fill="#0e800e"/>
<circle cx="339.08" cy="654.25" r="3.40" fill="#0e800e"/>
<circle cx="350.17" cy="654.25" r="3.40" fill="#0e800e"/>
<circle cx="361.26" cy="654.25" r="3.40" fill="#0e800e"/>
<circle cx="372.35" cy="654.25" r="3.40" fill="#0e800e"/>
<circle cx="383.44" cy="654.25" r="3.40" fill="#0e800e"/>
<circle cx="394.53" cy="654.25" r="3.40" fill="#0e800e"/>
<circle cx="405.62" cy="654.25" r="3.40" fill="#0e800e"/>
<circle cx="416.71" cy="654.25" r="3.40" fill="#0e800e"/>
<circle cx="427.80" cy="654.25" r="3.40" fill="#0e800e"/>
<circle cx="438.89" cy="654.25" r="3.40" fill="#0e800e"/>
<circle cx="449.98" cy="654.25" r="3.40" fill="#0e800e"/>
<circle cx="461.07" cy="654.25" r="3.40" fill="#0e800e"/>
<circle cx="472.16" cy="654.25" r="3.40" fill="#0e800e"/>
<circle cx="483.25" cy="654.25" r="3.40" fill="#0e800e"/>
<text x="272.2" y="673.00" font-size="13" style="fill:#2c6e2c;stroke:#2c6e2c">Ebf1</text>
<circle cx="316.90" cy="668.60" r="3.40" fill="#0e800e"/>
<circle cx="327.99" cy="668.60" r="3.40" fill="#0e800e"/>
<circle cx="339.08" cy="668.60" r="3.40" fill="#0e800e"/>
<circle cx="350.17" cy="668.60" r="3.40" fill="#0e800e"/>
<circle cx="361.26" cy="668.60" r="3.40" fill="#0e800e"/>
<circle cx="372.35" cy="668.60" r="3.40" fill="#0e800e"/>
<circle cx="383.44" cy="668.60" r="3.40" fill="#0e800e"/>
<circle cx="394.53" cy="668.60" r="3.40" fill="#0e800e"/>
<circle cx="405.62" cy="668.60" r="3.40" fill="#0e800e"/>
<circle cx="416.71" cy="668.60" r="3.40" fill="#0e800e"/>
<circle cx="427.80" cy="668.60" r="3.40" fill="#0e800e"/>
<circle cx="438.89" cy="668.60" r="3.40" fill="#0e800e"/>
<circle cx="449.98" cy="668.60" r="3.40" fill="#0e800e"/>
<circle cx="461.07" cy="668.60" r="3.40" fill="#0e800e"/>
<circle cx="472.16" cy="668.60" r="3.40" fill="#0e800e"/>
<circle cx="483.25" cy="668.60" r="3.40" fill="#0e800e"/>
<text x="272.2" y="687.05" font-size="13" style="fill:#3c3c90;stroke:#3c3c90">CD3e</text>
<text x="272.2" y="701.10" font-size="13" style="fill:#34348a;stroke:#34348a">Ptcra</text>
</svg></body></html>
